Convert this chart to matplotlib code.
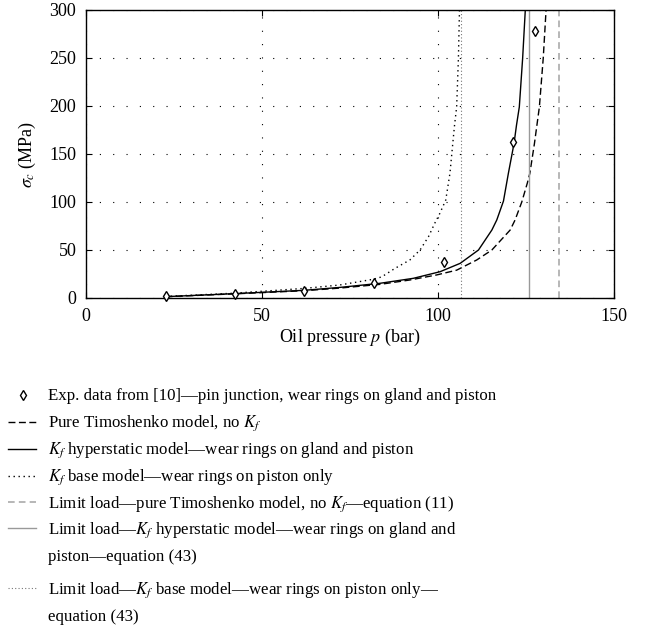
import matplotlib
matplotlib.use('Agg')
import matplotlib.pyplot as plt
from matplotlib.lines import Line2D

plt.rcParams['font.family'] = ['Liberation Serif', 'DejaVu Serif']
plt.rcParams['mathtext.fontset'] = 'stix'

# experimental points
exp_p = [22.6, 42.3, 62.0, 81.8, 101.7, 121.4, 127.5]
exp_s = [2.0, 4.0, 7.6, 16.0, 37.0, 162.0, 278.0]

# Kf hyperstatic model (solid)
hyp_p = [22.6, 42, 62, 72, 83.5, 93, 100.6, 106.3, 111.5, 115.3, 116.7, 118.6,
         120.0, 121.6, 122.3, 123.1, 124.05, 124.8]
hyp_s = [1.4, 4.5, 8.0, 11, 15.3, 20.5, 27.4, 36.1, 50, 70.8, 81.3, 101,
         130, 161, 180, 199, 250, 300]

# pure Timoshenko (dashed)
tim_p = [22.6, 42, 62, 72, 83.5, 92, 99.6, 105.3, 111, 115.3, 120.5, 121.9,
         123.8, 125.4, 126.1, 127.4, 128.1, 128.8, 129.9, 130.7]
tim_s = [1.3, 4.3, 7.6, 10.3, 14.2, 18.75, 24, 29, 39.6, 50, 70.8, 81.3,
         100, 120, 130, 161, 180, 199, 250, 300]

# Kf base model (dotted)
base_p = [22.6, 42, 62, 72, 81.6, 84, 87.8, 92, 94.9, 97.3, 99.1, 100.5, 102.2,
          103.4, 104.2, 104.7, 105.3, 105.8, 106.1]
base_s = [1.6, 5, 10, 13.5, 19.5, 22, 30.9, 39.6, 50, 63.9, 78, 88, 102,
          130, 161, 180, 199, 250, 300]

# limit loads
lim_tim = 134.5
lim_hyp = 125.85
lim_base = 106.4

labels = [
    ['Exp. data from [10]\u2014pin junction, wear rings on gland and piston'],
    ['Pure Timoshenko model, no $K_f$'],
    ['$K_f$ hyperstatic model\u2014wear rings on gland and piston'],
    ['$K_f$ base model\u2014wear rings on piston only'],
    ['Limit load\u2014pure Timoshenko model, no $K_f$\u2014equation (11)'],
    ['Limit load\u2014$K_f$ hyperstatic model\u2014wear rings on gland and',
     'piston\u2014equation (43)'],
    ['Limit load\u2014$K_f$ base model\u2014wear rings on piston only\u2014',
     'equation (43)'],
]

W, H = 653, 628
fig = plt.figure(figsize=(W / 100, H / 100), dpi=100)
ax = fig.add_axes([86 / W, 1 - 298 / H, 528 / W, 288 / H])

h_exp, = ax.plot(exp_p, exp_s, 'd', ms=5.5, mfc='white', mec='black', mew=1, zorder=5, clip_on=False)
h_tim, = ax.plot(tim_p, tim_s, color='black', lw=1, dashes=(5, 2.5))
h_hyp, = ax.plot(hyp_p, hyp_s, color='black', lw=1)
h_base, = ax.plot(base_p, base_s, color='black', lw=1, dashes=(1, 2.6))
h_ltim = ax.axvline(lim_tim, color='#aaaaaa', lw=1.2, dashes=(4, 2.5))
h_lhyp = ax.axvline(lim_hyp, color='#999999', lw=1.0)
h_lbase = ax.axvline(lim_base, color='#777777', lw=0.8, dashes=(1, 2))

ax.set_xlim(0, 150)
ax.set_ylim(0, 300)
ax.set_xticks([0, 50, 100, 150])
ax.set_yticks([0, 50, 100, 150, 200, 250, 300])
ax.grid(True, color='black', lw=0.8, dashes=(1, 11))
ax.tick_params(direction='in', top=True, right=True, labelsize=13, length=4, pad=7)
for s in ax.spines.values():
    s.set_linewidth(1.0)

ax.set_xlabel('Oil pressure $p$ (bar)', fontsize=13, labelpad=1.5)
ax.set_ylabel('$\\sigma_c$ (MPa)', fontsize=13, labelpad=8)

# legend drawn by hand below the axes
handles = [h_exp, h_tim, h_hyp, h_base, h_ltim, h_lhyp, h_lbase]
base_y = [400, 426.7, 454, 480.7, 507.3, 533.3, 593.3]
line_gap = 27.5
for h, lab, by in zip(handles, labels, base_y):
    yc = 1 - (by - 5) / H
    if h is h_exp:
        key = Line2D([22.5 / W], [yc])
    else:
        key = Line2D([8 / W, 36 / W], [yc, yc])
    key.update_from(h)
    key.set_transform(fig.transFigure)
    key.set_clip_on(False)
    fig.add_artist(key)
    for k, line in enumerate(lab):
        fig.text(48 / W, 1 - (by + k * line_gap) / H, line, fontsize=12.2,
                 ha='left', va='baseline')

fig.savefig('out.png', dpi=100)
